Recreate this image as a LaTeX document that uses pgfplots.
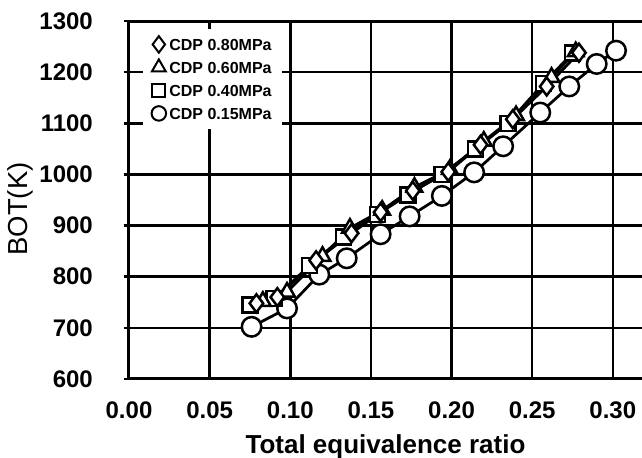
\documentclass[border=0pt]{standalone}
\usepackage{pgfplots}
\pgfplotsset{compat=1.18}
\usepackage{fontspec}
\setmainfont{Liberation Sans}

\begin{document}
\begin{tikzpicture}
\begin{axis}[
  scale only axis, width=205.2pt, height=143.2pt,
  xmin=0, xmax=0.3181, ymin=600, ymax=1300,
  xtick={0,0.05,0.10,0.15,0.20,0.25,0.30},
  ytick={600,700,800,900,1000,1100,1200,1300},
  axis x line=box, axis y line=left,
  axis line style={-, line width=1.2pt, black},
  tick style={black, line width=1pt},
  grid=major, major grid style={black, line width=1pt},
  /pgf/number format/assume math mode=true,
  /pgf/number format/1000 sep={},
  xticklabel style={/pgf/number format/fixed, /pgf/number format/precision=2, /pgf/number format/zerofill, yshift=-5.6pt},
  tick label style={font=\bfseries\fontsize{9.6}{9.6}\selectfont},
  yticklabel={\pgfmathprintnumber{\tick}\hspace*{8.8pt}},
  xlabel={Total equivalence ratio},
  ylabel={BOT(K)},
  every axis x label/.style={at={(axis description cs:0.5,-0.19)}, anchor=center, font=\bfseries\fontsize{10.4}{10.4}\selectfont},
  every axis y label/.style={at={(axis description cs:-0.2125,0.475)}, rotate=90, anchor=center, font=\fontsize{11}{11}\selectfont},
  legend style={at={(axis description cs:0.027,0.98)}, anchor=north west, draw=none, fill=white,
    font=\bfseries\fontsize{6.4}{6.4}\selectfont, inner sep=3pt, row sep=2.6pt,
    nodes={inner sep=1pt, text height=4.6pt, text depth=0pt}},
  legend cell align=left,
  legend image code/.code={\path (-3pt,0pt) (3pt,0pt); \draw[#1] plot coordinates {(0pt,0pt)};},
]
\addlegendimage{only marks, mark=diamond, mark size=3.3pt, mark options={black, line width=0.8pt}}
\addlegendentry{CDP 0.80MPa}
\addlegendimage{only marks, mark=triangle, mark size=3.2pt, mark options={black, line width=0.8pt}}
\addlegendentry{CDP 0.60MPa}
\addlegendimage{only marks, mark=square, mark size=2.6pt, mark options={black, line width=0.8pt}}
\addlegendentry{CDP 0.40MPa}
\addlegendimage{only marks, mark=o, mark size=2.9pt, mark options={black, line width=0.8pt}}
\addlegendentry{CDP 0.15MPa}

% 0.15 MPa circles
\addplot[forget plot, black, line width=1.1pt, mark=*, mark size=3.9pt, mark options={fill=white, draw=black, line width=1pt}]
coordinates {(0.076,702) (0.098,738) (0.118,804) (0.135,836) (0.156,883) (0.174,918) (0.194,958) (0.214,1004) (0.232,1055) (0.255,1121) (0.273,1172) (0.290,1216) (0.302,1242)};
% 0.40 MPa squares
\addplot[forget plot, black, line width=1.1pt, mark=square*, mark size=3pt, mark options={fill=white, draw=black, line width=1pt}]
coordinates {(0.075,745) (0.090,757) (0.112,822) (0.133,878) (0.154,922) (0.173,960) (0.194,1000) (0.215,1050) (0.235,1100) (0.257,1178) (0.275,1237)};
% 0.60 MPa triangles
\addplot[forget plot, black, line width=1.1pt, mark=triangle*, mark size=3.6pt, mark options={fill=white, draw=black, line width=1pt}]
coordinates {(0.083,752) (0.098,770) (0.120,840) (0.137,895) (0.157,930) (0.177,975) (0.199,1010) (0.220,1065) (0.240,1115) (0.262,1190) (0.277,1240)};
% 0.80 MPa diamonds
\addplot[forget plot, black, line width=1.1pt, mark=diamond*, mark size=3.6pt, mark options={fill=white, draw=black, line width=1pt}]
coordinates {(0.079,748) (0.092,760) (0.116,832) (0.138,885) (0.156,926) (0.176,968) (0.198,1005) (0.218,1058) (0.238,1108) (0.259,1172) (0.279,1238)};
\end{axis}
\pgfresetboundingbox
\path[use as bounding box] ([xshift=-51.6pt,yshift=-31.6pt]current axis.south west) rectangle ([yshift=8.4pt]current axis.north east);
\end{tikzpicture}
\end{document}
